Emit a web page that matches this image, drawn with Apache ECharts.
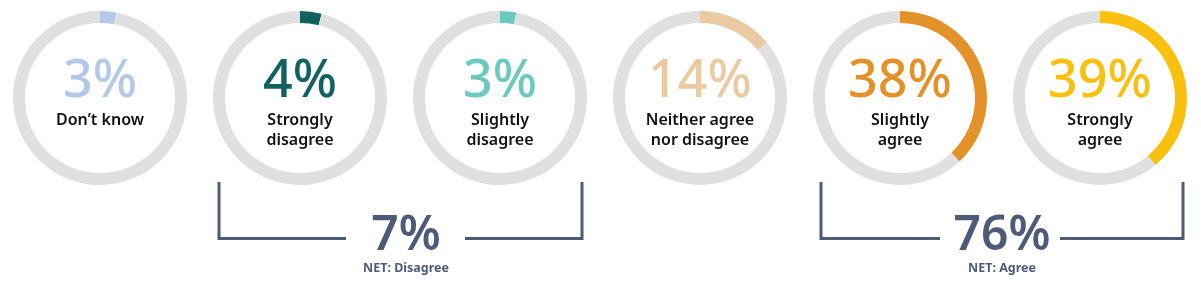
<!DOCTYPE html>
<html><head><meta charset="utf-8">
<script src="https://cdn.jsdelivr.net/npm/echarts@6/dist/echarts.min.js"></script>
<style>html,body{margin:0;padding:0;background:#fff}#c{width:1201px;height:291px}</style>
</head><body><div id="c"></div>
<script>
const categories = ["Don\u2019t know", "Strongly\ndisagree", "Slightly\ndisagree", "Neither agree\nnor disagree", "Slightly\nagree", "Strongly\nagree"];
const values = [3, 4, 3, 14, 38, 39];
const colors = ["#b4c8e8", "#11615f", "#6ccabd", "#e9caa2", "#e3922a", "#f9c00f"];
const netLabels = ["NET: Disagree", "NET: Agree"];
const netValues = [7, 76];

const chart = echarts.init(document.getElementById('c'), null, {renderer: 'canvas'});
const centersX = categories.map((_, i) => 100 + 200 * i);
const cy = 98;
const FONT = '"Noto Sans", sans-serif';

const series = values.map((v, i) => ({
  type: 'pie',
  radius: [75, 87],
  center: [centersX[i], cy],
  startAngle: 90,
  clockwise: true,
  silent: true,
  label: {show: false},
  labelLine: {show: false},
  emphasis: {disabled: true},
  data: [
    {value: v, itemStyle: {color: colors[i]}},
    {value: 100 - v, itemStyle: {color: '#e0e0e0'}}
  ]
}));

const graphics = [];
values.forEach((v, i) => {
  graphics.push({
    type: 'text', x: centersX[i], y: 82,
    style: {text: v + '%', font: '500 52px ' + FONT, fill: colors[i], textAlign: 'center', textVerticalAlign: 'middle'}
  });
  graphics.push({
    type: 'text', x: centersX[i], y: 110,
    style: {text: categories[i], font: '600 16px ' + FONT, fill: '#111111', textAlign: 'center', textVerticalAlign: 'top', lineHeight: 20}
  });
});

const bracketColor = '#4e5b78';
const brackets = [
  {l: 219, r: 582, gl: 346, gr: 465, tx: 406},
  {l: 821, r: 1183, gl: 940, gr: 1060, tx: 1002}
];
brackets.forEach((b, k) => {
  graphics.push({type: 'polyline', shape: {points: [[b.l, 182], [b.l, 238.5], [b.gl, 238.5]]}, style: {stroke: bracketColor, lineWidth: 3, fill: null}});
  graphics.push({type: 'polyline', shape: {points: [[b.gr, 238.5], [b.r, 238.5], [b.r, 182]]}, style: {stroke: bracketColor, lineWidth: 3, fill: null}});
  graphics.push({type: 'text', x: b.tx, y: 236, style: {text: netValues[k] + '%', font: '600 48px ' + FONT, fill: bracketColor, textAlign: 'center', textVerticalAlign: 'middle'}});
  graphics.push({type: 'text', x: b.tx, y: 268, style: {text: netLabels[k], font: '700 12.5px ' + FONT, fill: bracketColor, textAlign: 'center', textVerticalAlign: 'middle'}});
});

chart.setOption({
  animation: false,
  backgroundColor: '#ffffff',
  series: series,
  graphic: graphics
});
</script></body></html>
